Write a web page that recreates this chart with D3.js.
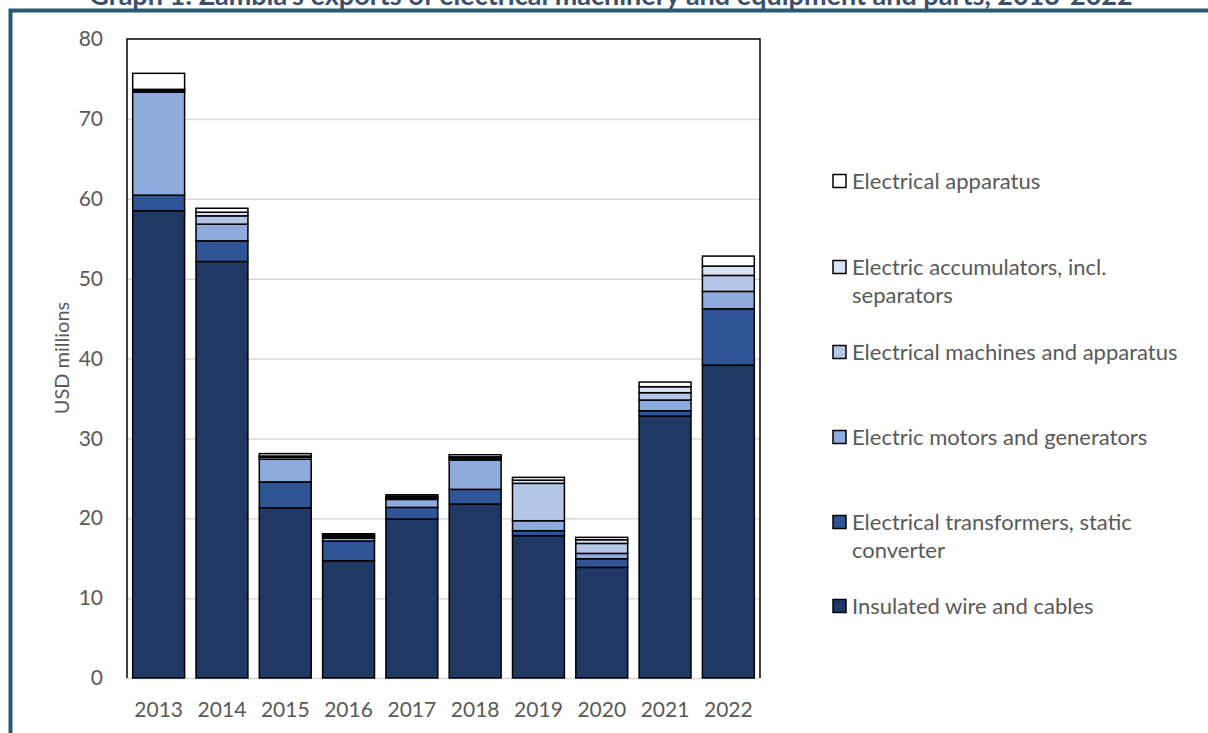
<!DOCTYPE html>
<html>
<head>
<meta charset="utf-8">
<script src="https://cdn.jsdelivr.net/npm/d3@7"></script>
<style>
  html, body { margin: 0; padding: 0; background: #ffffff; }
  svg { display: block; }
</style>
</head>
<body>
<svg id="chart" width="1208" height="733"></svg>
<script>
const years = ["2013","2014","2015","2016","2017","2018","2019","2020","2021","2022"];
const seriesNames = [
  "Insulated wire and cables",
  "Electrical transformers, static converter",
  "Electric motors and generators",
  "Electrical machines and apparatus",
  "Electric accumulators, incl. separators",
  "Electrical apparatus"
];
const insulated    = [58.5, 52.15, 21.3, 14.68, 19.9, 21.78, 17.81, 13.85, 32.79, 39.17];
const transformers = [1.95, 2.58, 3.25, 2.47, 1.46, 1.84, 0.63, 1.08, 0.67, 7.05];
const motors       = [12.9, 2.09, 2.84, 0.35, 1.0, 3.67, 1.25, 0.67, 1.34, 2.18];
const machines     = [0.2, 1.04, 0.25, 0.2, 0.2, 0.2, 4.68, 1.25, 0.92, 2.0];
const accumulators = [0.15, 0.45, 0.15, 0.18, 0.18, 0.2, 0.4, 0.46, 0.75, 1.17];
const apparatus    = [2.0, 0.5, 0.3, 0.18, 0.2, 0.26, 0.35, 0.3, 0.58, 1.25];
const yTicks = [0, 10, 20, 30, 40, 50, 60, 70, 80];
const colors = ["#1F3864", "#2F5597", "#8FAADC", "#B4C7E7", "#DAE3F3", "#FFFFFF"];
const legendLines = [
  ["Electrical apparatus"],
  ["Electric accumulators, incl.", "separators"],
  ["Electrical machines and apparatus"],
  ["Electric motors and generators"],
  ["Electrical transformers, static", "converter"],
  ["Insulated wire and cables"]
];

const seriesValues = [insulated, transformers, motors, machines, accumulators, apparatus];
const rows = years.map((y, i) => {
  const r = { year: y };
  seriesNames.forEach((s, k) => r[s] = seriesValues[k][i]);
  return r;
});

const FONT = "Lato, 'Open Sans', sans-serif";
const svg = d3.select("#chart");

// Frame
svg.append("path")
  .attr("d", "M10.5,733 L10.5,10.5 L1208,10.5")
  .attr("fill", "none").attr("stroke", "#2A5A72").attr("stroke-width", 4);

// Title (cut off at top, as in the reference)
svg.append("text")
  .attr("x", 611).attr("y", 4.5)
  .attr("text-anchor", "middle")
  .attr("font-family", FONT).attr("font-weight", "bold")
  .attr("font-size", 27).attr("fill", "#3C4F6B")
  .text("Graph 1: Zambia's exports of electrical machinery and equipment and parts, 2013-2022");

const L = 127, R = 760, T = 39, B = 678;
const x = d3.scaleBand().domain(years).range([L, R]).paddingInner(0.18).paddingOuter(0.09);
const y = d3.scaleLinear().domain([0, 80]).range([B, T]);

// Gridlines
svg.append("g").selectAll("line").data(yTicks.filter(t => t > 0 && t < 80)).join("line")
  .attr("x1", L).attr("x2", R)
  .attr("y1", d => y(d) + 0.5).attr("y2", d => y(d) + 0.5)
  .attr("stroke", "#D9D9D9").attr("stroke-width", 1.5);

// Bottom axis line
svg.append("line").attr("x1", L).attr("x2", R).attr("y1", B + 0.5).attr("y2", B + 0.5)
  .attr("stroke", "#D9D9D9").attr("stroke-width", 1.5);

// Stacked bars
const stack = d3.stack().keys(seriesNames)(rows);
svg.append("g").selectAll("g").data(stack).join("g")
  .attr("fill", (d, i) => colors[i])
  .selectAll("rect").data(d => d).join("rect")
  .attr("x", d => x(d.data.year))
  .attr("width", x.bandwidth())
  .attr("y", d => y(d[1]))
  .attr("height", d => Math.max(0, y(d[0]) - y(d[1])))
  .attr("stroke", "#000").attr("stroke-width", 1.5);

// Plot border (top, left, right black)
svg.append("path")
  .attr("d", `M${L},${B} L${L},${T} L${R},${T} L${R},${B}`)
  .attr("fill", "none").attr("stroke", "#000").attr("stroke-width", 1.5);

// Y axis labels
const yAxis = d3.axisLeft(y).tickValues(yTicks).tickSize(0).tickPadding(24);
const yg = svg.append("g").attr("transform", `translate(${L},0)`).call(yAxis);
yg.select(".domain").remove();
yg.selectAll("text").attr("font-family", FONT).attr("font-size", 21).attr("fill", "#595959");

// X axis labels
const xAxis = d3.axisBottom(x).tickSize(0).tickPadding(24);
const xg = svg.append("g").attr("transform", `translate(0,${B})`).call(xAxis);
xg.select(".domain").remove();
xg.selectAll("text").attr("font-family", FONT).attr("font-size", 21).attr("fill", "#595959");

// Y axis title
svg.append("text")
  .attr("transform", "translate(69,358) rotate(-90)")
  .attr("text-anchor", "middle")
  .attr("font-family", FONT).attr("font-size", 20).attr("fill", "#595959")
  .text("USD millions");

// Legend
const legendY = [181, 267, 352, 437, 522, 606];
const lg = svg.append("g");
legendLines.forEach((lines, i) => {
  const cy = legendY[i];
  lg.append("rect")
    .attr("x", 833).attr("y", cy - 6.5).attr("width", 13).attr("height", 13)
    .attr("fill", colors[5 - i]).attr("stroke", "#000").attr("stroke-width", 1.5);
  lines.forEach((t, j) => {
    lg.append("text")
      .attr("x", 852).attr("y", cy + j * 28)
      .attr("dy", "0.35em")
      .attr("font-family", FONT).attr("font-size", 22).attr("fill", "#595959")
      .text(t);
  });
});
</script>
</body>
</html>
